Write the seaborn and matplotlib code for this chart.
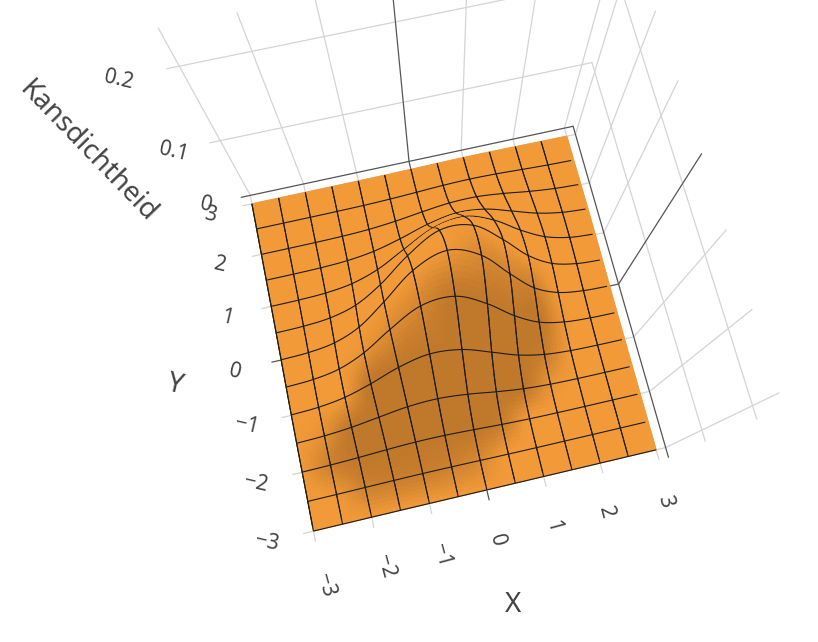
import numpy as np
import pandas as pd
import matplotlib
matplotlib.use("Agg")
import matplotlib.pyplot as plt
from matplotlib.collections import PolyCollection, LineCollection
import seaborn as sns

# ---------- data ----------
grid_x = [-3, -2.5, -2, -1.5, -1, -0.5, 0, 0.5, 1, 1.5, 2, 2.5, 3]
grid_y = [-3, -2.5, -2, -1.5, -1, -0.5, 0, 0.5, 1, 1.5, 2, 2.5, 3]
# density, rows = y from -3 to 3, columns = x from -3 to 3
density = [
    [.0003,.0007,.0013,.0018,.0019,.0014,.0008,.0003,.0001,0,0,0,0],
    [.0007,.0020,.0042,.0066,.0076,.0066,.0042,.0020,.0007,.0002,0,0,0],
    [.0013,.0042,.0100,.0176,.0230,.0223,.0161,.0086,.0034,.0010,.0002,0,0],
    [.0018,.0066,.0176,.0348,.0513,.0561,.0455,.0274,.0123,.0041,.0010,.0002,0],
    [.0019,.0076,.0230,.0513,.0850,.1047,.0958,.0651,.0328,.0123,.0034,.0007,.0001],
    [.0014,.0066,.0223,.0561,.1047,.1453,.1497,.1145,.0651,.0274,.0086,.0020,.0003],
    [.0008,.0042,.0161,.0455,.0958,.1497,.1737,.1497,.0958,.0455,.0161,.0042,.0008],
    [.0003,.0020,.0086,.0274,.0651,.1145,.1497,.1453,.1047,.0561,.0223,.0066,.0014],
    [.0001,.0007,.0034,.0123,.0328,.0651,.0958,.1047,.0850,.0513,.0230,.0076,.0019],
    [0,.0002,.0010,.0041,.0123,.0274,.0455,.0561,.0513,.0348,.0176,.0066,.0018],
    [0,0,.0002,.0010,.0034,.0086,.0161,.0223,.0230,.0176,.0100,.0042,.0013],
    [0,0,0,.0002,.0007,.0020,.0042,.0066,.0076,.0066,.0042,.0020,.0007],
    [0,0,0,0,.0001,.0003,.0008,.0014,.0019,.0018,.0013,.0007,.0003],
]
# darkness of the lighting on the surface, same layout
shade = [
    [0,0,0,0,0,0,0,0,0,0,0,0,0],
    [0,.1,.7,.8,.8,.7,.5,0,0,0,0,0,0],
    [0,.7,1,1,1,1,1,.8,0,0,0,0,0],
    [0,.3,1,1,1,1,1,1,1,.2,0,0,0],
    [0,0,.1,1,1,1,1,1,1,.8,0,0,0],
    [0,0,0,.2,.4,.6,1,1,1,1,.1,0,0],
    [0,0,0,0,0,0,.1,.5,.6,.7,0,0,0],
    [0,0,0,0,0,0,0,0,0,0,0,0,0],
    [0,0,0,0,0,0,0,0,0,0,0,0,0],
    [0,0,0,0,0,0,0,0,0,0,0,0,0],
    [0,0,0,0,0,0,0,0,0,0,0,0,0],
    [0,0,0,0,0,0,0,0,0,0,0,0,0],
    [0,0,0,0,0,0,0,0,0,0,0,0,0],
]
x_ticks = [-3, -2, -1, 0, 1, 2, 3]
y_ticks = [-3, -2, -1, 0, 1, 2, 3]
z_ticks = [0, 0.1, 0.2]
x_tick_labels = ["\u22123", "\u22122", "\u22121", "0", "1", "2", "3"]
y_tick_labels = ["\u22123", "\u22122", "\u22121", "0", "1", "2", "3"]
z_tick_labels = ["0", "0.1", "0.2"]
x_title, y_title, z_title = "X", "Y", "Kansdichtheid"

# ---------- style / layout ----------
BOX = 3.17          # half width of the scene box
ZTOP = 0.24
ORANGE = np.array([242, 154, 56]) / 255
DARK = np.array([192, 120, 42]) / 255
TEXT = "#444444"
GRID = "#d4d4d4"
LINE = "#555555"
x_label_px = [(325, 585), (385, 566), (441, 555), (497, 540), (553, 526), (606, 512), (665, 501)]
y_label_px = [(267, 542), (256, 483), (247, 425), (235, 372), (227, 318), (220, 265), (210, 215)]
z_label_px = [(206, 205), (174, 152), (119, 80)]

# camera calibration: scene point -> picture pixel
R = BOX
calib = np.array([
    (-3,R,0,250,195.5),(-3,R,.1,220,140.7),(-3,R,.2,179.3,66),
    (-2,R,0,303.3,184),(-2,R,.1,281.7,128.3),(-2,R,.2,251.7,51.7),
    (-1,R,0,356.7,171.7),(-1,R,.1,343.3,115),
    (0,R,0,408.3,161.7),(0,R,.1,403.3,101.7),
    (R,R,0,573.3,126),(R,R,.1,591.7,62.7),(-R,R,0,241,197),
    (R,-3,0,666,447.3),(R,-3,.1,702.3,430),(R,-3,.2,751.7,406.7),
    (R,-2,0,650,390.7),(R,-2,.1,683.3,365),(R,-2,.2,727.7,328.3),
    (R,-1,0,633.3,336.7),(R,-1,.1,663.3,301.7),(R,-1,.2,705,253.3),
    (R,0,0,619,284),(R,0,.1,646,241.7),(R,0,.2,683.3,184),(R,-R,0,668.3,458.3),
    (-3,-3,0,313.3,530.7),(3,-3,0,655,450),(3,3,0,566.7,137.3),(-3,3,0,252.7,204),
    (-3,-R,0,316,541.7),
])


def solve_camera(c):
    rows = []
    for X, Y, Z, u, v in c:
        u, v = (u - 409) / 300, (v - 321) / 300
        h = [X, Y, Z * 20, 1]
        rows.append(h + [0, 0, 0, 0] + [-u * t for t in h])
        rows.append([0, 0, 0, 0] + h + [-v * t for t in h])
    P = np.linalg.svd(np.array(rows))[2][-1].reshape(3, 4)
    if (P[2] @ np.array([0, 0, 0, 1])) < 0:
        P = -P
    return P


CAM = solve_camera(calib)


def project(X, Y, Z):
    X, Y, Z = np.broadcast_arrays(np.asarray(X, float), np.asarray(Y, float), np.asarray(Z, float))
    h = np.stack([X, Y, Z * 20, np.ones_like(X, dtype=float)], -1)
    q = h @ CAM.T
    return q[..., 0] / q[..., 2] * 300 + 409, q[..., 1] / q[..., 2] * 300 + 321, q[..., 2]


def smooth(a, n=4):
    """Catmull-Rom curve through the table values, drawn along both axes."""
    def along(m):
        e = np.vstack([2 * m[0] - m[1], m, 2 * m[-1] - m[-2]])
        out = []
        for i in range(1, len(e) - 2):
            for t in np.arange(n) / n:
                out.append(0.5 * (2 * e[i] + (e[i + 1] - e[i - 1]) * t
                                  + (2 * e[i - 1] - 5 * e[i] + 4 * e[i + 1] - e[i + 2]) * t ** 2
                                  + (3 * e[i] - e[i - 1] - 3 * e[i + 1] + e[i + 2]) * t ** 3))
        out.append(e[-2])
        return np.array(out)
    return along(along(np.asarray(a, float)).T).T


sns.set_theme(style="white")
plt.rcParams["font.family"] = ["Noto Sans", "DejaVu Sans"]
fig = plt.figure(figsize=(8.18, 6.42), dpi=100, facecolor="white")
ax = fig.add_axes([0, 0, 1, 1])


def scene_lines(segs, color, lw, zorder):
    """Draw scene-space polylines via seaborn, on the projected positions."""
    recs = []
    for k, (a, b) in enumerate(segs):
        t = np.linspace(0, 1, 12)
        sx, sy, _ = project(a[0] + (b[0] - a[0]) * t, a[1] + (b[1] - a[1]) * t, a[2] + (b[2] - a[2]) * t)
        recs.append(pd.DataFrame({"sx": sx, "sy": sy, "seg": k}))
    df = pd.concat(recs)
    sns.lineplot(data=df, x="sx", y="sy", units="seg", estimator=None, sort=False,
                 color=color, lw=lw, ax=ax, zorder=zorder, legend=False)


# light grid on floor and the two back walls
gray, dark = [], []
for v in x_ticks:
    (dark if v == 0 else gray).append(((v, -R, 0), (v, R, 0)))
    (dark if v == 0 else gray).append(((v, R, 0), (v, R, ZTOP)))
for v in y_ticks:
    (dark if v == 0 else gray).append(((-R, v, 0), (R, v, 0)))
    (dark if v == 0 else gray).append(((R, v, 0), (R, v, ZTOP)))
for v in z_ticks[1:]:
    gray.append(((-R, R, v), (R, R, v)))
    gray.append(((R, R, v), (R, -R, v)))
scene_lines(gray, GRID, 0.9, 1)
scene_lines(dark + [((-R, R, 0), (R, R, 0)), ((R, R, 0), (R, -R, 0))], LINE, 0.9, 2)

# surface, far strips first, so that the nearer slope hides what is behind it
n = 8
Xf = smooth(np.array(grid_x)[None, :].repeat(13, 0), n)
Yf = smooth(np.array(grid_y)[:, None].repeat(13, 1), n)
Zf = smooth(density, n)
Sf = np.clip(smooth(shade, n), 0, 1)
U, V, W = project(Xf, Yf, Zf)
rows, cols = Zf.shape
zo = 10.0
for i in range(rows - 2, -1, -1):
    polys, colors, depth = [], [], []
    for j in range(cols - 1):
        polys.append([(U[i, j], V[i, j]), (U[i, j + 1], V[i, j + 1]),
                      (U[i + 1, j + 1], V[i + 1, j + 1]), (U[i + 1, j], V[i + 1, j])])
        s = Sf[i:i + 2, j:j + 2].mean()
        colors.append(ORANGE * (1 - s) + DARK * s)
        depth.append(W[i:i + 2, j:j + 2].mean())
    order = np.argsort(depth)[::-1]
    ax.add_collection(PolyCollection([polys[k] for k in order], facecolors=[colors[k] for k in order],
                                     edgecolors=[colors[k] for k in order], linewidths=0.7, zorder=zo))
    zo += 1
    # wires: x = const pieces over this strip and the one behind, y = const wire on the far edge
    segs = []
    top = min(i + 2, rows - 1)
    for j in range(0, cols - 1, n):
        segs.append([(U[i, j], V[i, j]), (U[i + 1, j], V[i + 1, j]), (U[top, j], V[top, j])])
    if (i + 1) % n == 0 and i + 1 != rows - 1:
        wire = np.c_[U[i + 1], V[i + 1]]
        wire[-1] = wire[-2] + (wire[-1] - wire[-2]) * 0.2   # wire stops just short of the right edge
        segs.append(wire.tolist())
    if i == 0:
        segs.append(np.c_[U[0], V[0]].tolist())
    if segs:
        ax.add_collection(LineCollection(segs, colors="#1c1c1c", linewidths=0.8, zorder=zo))
    zo += 1

# texts
for lab, (px, py) in zip(x_tick_labels, x_label_px):
    ax.text(px, py, lab, rotation=-75, rotation_mode="anchor", ha="center", va="center",
            color=TEXT, fontsize=15, zorder=500)
for lab, (px, py) in zip(y_tick_labels, y_label_px):
    ax.text(px, py, lab, rotation=-13, rotation_mode="anchor", ha="center", va="center",
            color=TEXT, fontsize=15, zorder=500)
for lab, (px, py) in zip(z_tick_labels, z_label_px):
    ax.text(px, py, lab, rotation=-13, rotation_mode="anchor", ha="center", va="center",
            color=TEXT, fontsize=15, zorder=500)
ax.text(513, 605, x_title, ha="center", va="center", color=TEXT, fontsize=20, zorder=500)
ax.text(175, 385, y_title, rotation=-13, rotation_mode="anchor", ha="center", va="center",
        color=TEXT, fontsize=20, zorder=500)
ax.text(87, 152, z_title, rotation=-46, rotation_mode="anchor", ha="center", va="center",
        color=TEXT, fontsize=20, zorder=500)

ax.set_xlim(0, 818)
ax.set_ylim(642, 0)
ax.set_axis_off()
fig.savefig("out.png", dpi=100, facecolor="white")
